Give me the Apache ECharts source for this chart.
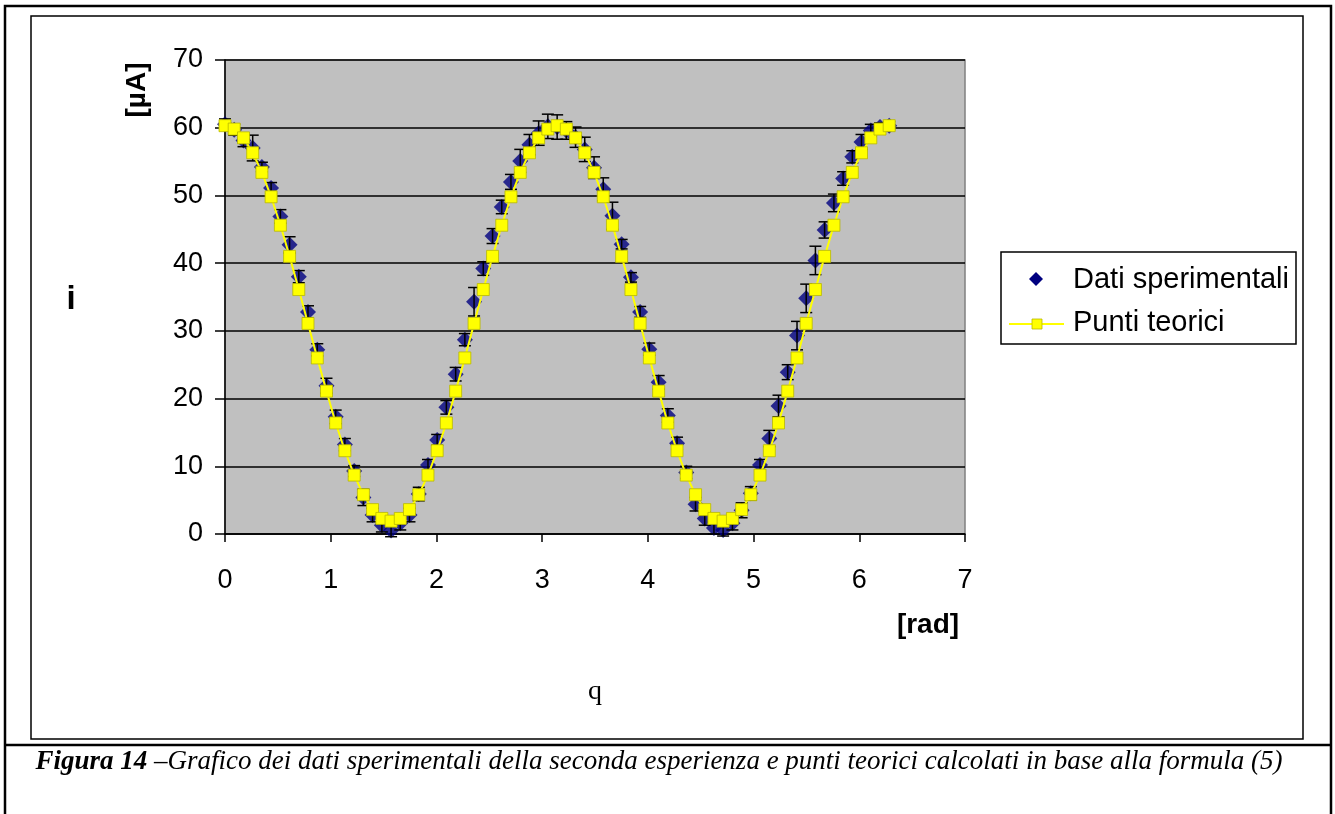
<!DOCTYPE html>
<html>
<head>
<meta charset="utf-8">
<title>Figura 14</title>
<script src="https://cdn.jsdelivr.net/npm/echarts@6/dist/echarts.min.js"></script>
<style>
  html, body { margin: 0; padding: 0; background: #ffffff; }
  #chart { width: 1335px; height: 814px; }
</style>
</head>
<body>
<div id="chart"></div>
<script>
// Polarizer angle (rad), 5° steps from 0 to 2π
const angles = [
  0.000, 0.087, 0.175, 0.262, 0.349, 0.436, 0.524, 0.611, 0.698, 0.785,
  0.873, 0.960, 1.047, 1.134, 1.222, 1.309, 1.396, 1.484, 1.571, 1.658,
  1.745, 1.833, 1.920, 2.007, 2.094, 2.182, 2.269, 2.356, 2.443, 2.531,
  2.618, 2.705, 2.793, 2.880, 2.967, 3.054, 3.142, 3.229, 3.316, 3.403,
  3.491, 3.578, 3.665, 3.752, 3.840, 3.927, 4.014, 4.102, 4.189, 4.276,
  4.363, 4.451, 4.538, 4.625, 4.712, 4.800, 4.887, 4.974, 5.061, 5.149,
  5.236, 5.323, 5.411, 5.498, 5.585, 5.672, 5.760, 5.847, 5.934, 6.021,
  6.109, 6.196, 6.283
];

// Measured photocurrent (µA)
const measured = [
  60.5, 59.7, 58.1, 57.0, 54.2, 51.1, 46.9, 42.7, 38.0, 32.8,
  27.2, 21.9, 17.3, 13.2, 9.3, 5.4, 2.8, 1.3, 0.5, 1.6,
  2.8, 5.9, 10.2, 13.9, 18.7, 23.6, 28.7, 34.3, 39.2, 44.0,
  48.3, 52.0, 55.1, 57.5, 59.2, 60.2, 60.1, 59.6, 58.6, 56.8,
  54.1, 50.9, 47.0, 42.8, 37.9, 32.8, 27.3, 22.4, 17.5, 13.4,
  9.1, 4.4, 2.3, 0.9, 0.6, 1.6, 3.5, 6.0, 10.2, 14.1,
  18.9, 23.9, 29.3, 34.8, 40.4, 44.9, 48.9, 52.5, 55.7, 57.9,
  59.6, 60.1, 60.3
];

// Uncertainty on each measurement (µA)
const measuredErr = [
  0.8, 0.8, 0.9, 1.9, 0.7, 0.8, 1.0, 1.2, 0.9, 0.9,
  0.9, 1.1, 1.0, 0.9, 0.8, 1.2, 1.0, 1.0, 0.9, 1.0,
  1.0, 1.0, 0.8, 0.8, 1.0, 1.0, 0.9, 2.1, 1.0, 1.1,
  1.0, 1.1, 1.7, 1.5, 1.8, 1.8, 1.8, 1.3, 1.5, 1.8,
  1.6, 1.7, 2.0, 0.7, 0.7, 0.8, 0.9, 1.0, 1.0, 0.9,
  0.9, 1.0, 1.0, 0.9, 0.9, 1.0, 1.1, 1.0, 0.8, 1.2,
  1.6, 1.1, 2.1, 2.1, 2.1, 1.2, 1.3, 1.0, 0.9, 1.1,
  0.9, 0.6, 0.6
];

// Theoretical values from formula (5)
const theory = [
  60.3, 59.8, 58.5, 56.3, 53.4, 49.8, 45.6, 41.0, 36.1, 31.1,
  26.0, 21.1, 16.4, 12.3, 8.7, 5.8, 3.6, 2.3, 1.9, 2.3,
  3.6, 5.8, 8.7, 12.3, 16.4, 21.1, 26.0, 31.1, 36.1, 41.0,
  45.6, 49.8, 53.4, 56.3, 58.5, 59.8, 60.3, 59.8, 58.5, 56.3,
  53.4, 49.8, 45.6, 41.0, 36.1, 31.1, 26.0, 21.1, 16.4, 12.3,
  8.7, 5.8, 3.6, 2.3, 1.9, 2.3, 3.6, 5.8, 8.7, 12.3,
  16.4, 21.1, 26.0, 31.1, 36.1, 41.0, 45.6, 49.8, 53.4, 56.3,
  58.5, 59.8, 60.3
];

const seriesNames = ['Dati sperimentali', 'Punti teorici'];
const yTicks = { min: 0, max: 70, step: 10 };
const xTicks = { min: 0, max: 7, step: 1 };

const SANS = "'Liberation Sans', Arial, Helvetica, sans-serif";
const SERIF = "'Liberation Serif', 'Times New Roman', Times, serif";

const measuredData = angles.map((a, i) => [a, measured[i]]);
const errorData = angles.map((a, i) => [a, measured[i] - measuredErr[i], measured[i] + measuredErr[i]]);
const theoryData = angles.map((a, i) => [a, theory[i]]);

const chart = echarts.init(document.getElementById('chart'), null, { renderer: 'canvas' });

// legend drawn as a framed box on the right
const LX = 1001, LY = 252, LW = 295, LH = 92;

chart.setOption({
  backgroundColor: '#ffffff',
  animation: false,
  grid: {
    left: 225, top: 60, width: 740, height: 474,
    show: true, backgroundColor: '#C0C0C0',
    borderColor: '#808080', borderWidth: 1.5
  },
  xAxis: {
    type: 'value',
    min: xTicks.min, max: xTicks.max, interval: xTicks.step,
    axisLine: { show: true, onZero: false, lineStyle: { color: '#000', width: 1.5 } },
    axisTick: { show: true, inside: false, length: 8, lineStyle: { color: '#000', width: 1.5 } },
    axisLabel: { color: '#000', fontFamily: SANS, fontSize: 27, margin: 33 },
    splitLine: { show: false }
  },
  yAxis: {
    type: 'value',
    min: yTicks.min, max: yTicks.max, interval: yTicks.step,
    axisLine: { show: true, onZero: false, lineStyle: { color: '#000', width: 1.5 } },
    axisTick: { show: true, inside: false, length: 10, lineStyle: { color: '#000', width: 1.5 } },
    axisLabel: { color: '#000', fontFamily: SANS, fontSize: 27, margin: 22 },
    splitLine: { show: true, lineStyle: { color: '#000', width: 1.5 } }
  },
  series: [
    {
      name: seriesNames[0],
      type: 'scatter',
      data: measuredData,
      symbol: 'diamond',
      symbolSize: [16, 16],
      itemStyle: { color: '#000080' },
      z: 2
    },
    {
      name: 'errori',
      type: 'custom',
      data: errorData,
      z: 3,
      silent: true,
      renderItem: function (params, api) {
        const x = api.value(0);
        const lo = api.coord([x, api.value(1)]);
        const hi = api.coord([x, api.value(2)]);
        const cap = 6;
        const style = { stroke: '#000', lineWidth: 1.5 };
        return {
          type: 'group',
          children: [
            { type: 'line', shape: { x1: lo[0], y1: lo[1], x2: hi[0], y2: hi[1] }, style: style },
            { type: 'line', shape: { x1: lo[0] - cap, y1: lo[1], x2: lo[0] + cap, y2: lo[1] }, style: style },
            { type: 'line', shape: { x1: hi[0] - cap, y1: hi[1], x2: hi[0] + cap, y2: hi[1] }, style: style }
          ]
        };
      }
    },
    {
      name: seriesNames[1],
      type: 'line',
      data: theoryData,
      symbol: 'rect',
      symbolSize: 12,
      showAllSymbol: true,
      lineStyle: { color: '#FFFF00', width: 2 },
      itemStyle: { color: '#FFFF00', borderColor: '#B8B800', borderWidth: 0.8 },
      z: 4
    }
  ],
  graphic: [
    // outer page frame
    { type: 'polyline', shape: { points: [[5, 814], [5, 6], [1331, 6], [1331, 814]] },
      style: { stroke: '#000', lineWidth: 2.5, fill: null }, silent: true },
    // chart box
    { type: 'rect', shape: { x: 31, y: 16, width: 1272, height: 723 },
      style: { stroke: '#000', lineWidth: 1.5, fill: null }, silent: true },
    // separator above the caption
    { type: 'line', shape: { x1: 5, y1: 745, x2: 1331, y2: 745 },
      style: { stroke: '#000', lineWidth: 2.5 }, silent: true },
    // y axis titles
    { type: 'text', x: 137, y: 90, rotation: Math.PI / 2,
      style: { text: '[µA]', font: "bold 28px " + SANS, fill: '#000', align: 'center', verticalAlign: 'middle' } },
    { type: 'text', x: 71, y: 300,
      style: { text: 'i', font: "bold 33px " + SANS, fill: '#000', align: 'center', verticalAlign: 'middle' } },
    // x axis titles
    { type: 'text', x: 928, y: 625,
      style: { text: '[rad]', font: "bold 28px " + SANS, fill: '#000', align: 'center', verticalAlign: 'middle' } },
    { type: 'text', x: 595, y: 692,
      style: { text: 'q', font: "28px " + SERIF, fill: '#000', align: 'center', verticalAlign: 'middle' } },
    // legend
    { type: 'rect', shape: { x: LX, y: LY, width: LW, height: LH },
      style: { stroke: '#000', lineWidth: 1.5, fill: '#fff' }, silent: true, z: 10 },
    { type: 'polygon', shape: { points: [[1036, 272], [1043, 279], [1036, 286], [1029, 279]] },
      style: { fill: '#000080' }, z: 11 },
    { type: 'text', x: 1073, y: 280, z: 11,
      style: { text: seriesNames[0], font: "29px " + SANS, fill: '#000', verticalAlign: 'middle' } },
    { type: 'line', shape: { x1: 1009, y1: 324, x2: 1064, y2: 324 },
      style: { stroke: '#FFFF00', lineWidth: 2 }, z: 11 },
    { type: 'rect', shape: { x: 1032, y: 319, width: 10, height: 10 },
      style: { fill: '#FFFF00', stroke: '#B8B800', lineWidth: 0.8 }, z: 12 },
    { type: 'text', x: 1073, y: 323, z: 11,
      style: { text: seriesNames[1], font: "29px " + SANS, fill: '#000', verticalAlign: 'middle' } },
    // caption
    { type: 'text', x: 659, y: 762,
      style: {
        text: '{b|Figura 14 }{n|–Grafico dei dati sperimentali della seconda esperienza e punti teorici calcolati in base alla formula (5)}',
        align: 'center', verticalAlign: 'middle',
        rich: {
          b: { font: "bold italic 27px " + SERIF, fill: '#000' },
          n: { font: "italic 27px " + SERIF, fill: '#000' }
        }
      } }
  ]
});
</script>
</body>
</html>
